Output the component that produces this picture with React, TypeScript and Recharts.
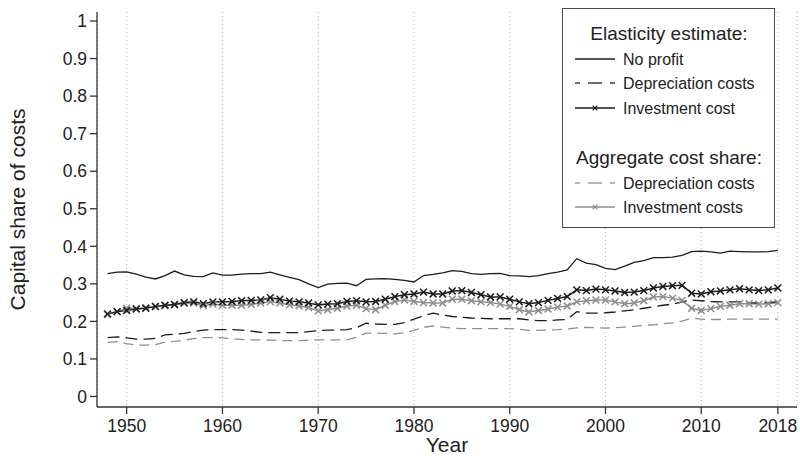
import { CartesianGrid, Legend, Line, LineChart, XAxis, YAxis } from "recharts";

const years = [
	1948, 1949, 1950, 1951, 1952, 1953, 1954, 1955, 1956, 1957, 1958, 1959,
	1960, 1961, 1962, 1963, 1964, 1965, 1966, 1967, 1968, 1969,
	1970, 1971, 1972, 1973, 1974, 1975, 1976, 1977, 1978, 1979,
	1980, 1981, 1982, 1983, 1984, 1985, 1986, 1987, 1988, 1989,
	1990, 1991, 1992, 1993, 1994, 1995, 1996, 1997, 1998, 1999,
	2000, 2001, 2002, 2003, 2004, 2005, 2006, 2007, 2008, 2009,
	2010, 2011, 2012, 2013, 2014, 2015, 2016, 2017, 2018,
];

// elasticity estimates
const noProfit = [
	0.327, 0.331, 0.332, 0.326, 0.318, 0.313, 0.322, 0.334, 0.324, 0.32, 0.319, 0.329,
	0.323, 0.323, 0.326, 0.327, 0.327, 0.331, 0.324, 0.317, 0.311, 0.3,
	0.29, 0.299, 0.301, 0.302, 0.295, 0.312, 0.313, 0.314, 0.312, 0.309,
	0.305, 0.322, 0.325, 0.329, 0.335, 0.333, 0.327, 0.325, 0.327, 0.328,
	0.322, 0.321, 0.319, 0.322, 0.327, 0.331, 0.337, 0.367, 0.355, 0.351,
	0.341, 0.338, 0.347, 0.357, 0.362, 0.37, 0.37, 0.371, 0.376, 0.386,
	0.387, 0.385, 0.382, 0.387, 0.386, 0.385, 0.385, 0.386, 0.389,
];
const deprElasticity = [
	0.157, 0.159, 0.156, 0.153, 0.153, 0.155, 0.164, 0.166, 0.168, 0.173, 0.177, 0.178,
	0.178, 0.178, 0.177, 0.174, 0.171, 0.17, 0.17, 0.17, 0.17, 0.173,
	0.175, 0.177, 0.177, 0.178, 0.183, 0.195, 0.193, 0.192, 0.192, 0.197,
	0.206, 0.215, 0.222, 0.217, 0.213, 0.211, 0.209, 0.208, 0.207, 0.207,
	0.207, 0.207, 0.204, 0.202, 0.202, 0.204, 0.205, 0.226, 0.222, 0.222,
	0.223, 0.225, 0.228, 0.231, 0.235, 0.239, 0.243, 0.246, 0.252, 0.257,
	0.255, 0.253, 0.252, 0.252, 0.252, 0.25, 0.249, 0.25, 0.252,
];
const invElasticity = [
	0.22, 0.226, 0.229, 0.233, 0.235, 0.24, 0.243, 0.245, 0.25, 0.252, 0.247, 0.252,
	0.252, 0.253, 0.255, 0.256, 0.257, 0.263, 0.259, 0.254, 0.252, 0.249,
	0.244, 0.246, 0.247, 0.253, 0.255, 0.252, 0.253, 0.259, 0.266, 0.271,
	0.273, 0.278, 0.273, 0.273, 0.281, 0.282, 0.277, 0.271, 0.265, 0.265,
	0.259, 0.252, 0.247, 0.25, 0.256, 0.261, 0.266, 0.284, 0.282, 0.286,
	0.284, 0.281, 0.277, 0.278, 0.282, 0.289, 0.293, 0.295, 0.296, 0.275,
	0.273, 0.279, 0.281, 0.284, 0.287, 0.284, 0.282, 0.284, 0.289,
];

// aggregate cost shares
const deprAggregate = [
	0.144, 0.146, 0.141, 0.137, 0.137, 0.138, 0.145, 0.147, 0.15, 0.154, 0.157, 0.157,
	0.156, 0.153, 0.152, 0.151, 0.151, 0.15, 0.149, 0.149, 0.149, 0.15,
	0.151, 0.151, 0.151, 0.151, 0.158, 0.169, 0.169, 0.168, 0.167, 0.17,
	0.176, 0.184, 0.188, 0.185, 0.182, 0.181, 0.181, 0.181, 0.181, 0.181,
	0.181, 0.179, 0.176, 0.176, 0.177, 0.178, 0.18, 0.183, 0.184, 0.183,
	0.182, 0.183, 0.185, 0.187, 0.189, 0.191, 0.194, 0.196, 0.201, 0.209,
	0.206, 0.205, 0.205, 0.206, 0.206, 0.206, 0.206, 0.206, 0.206,
];
const invAggregate = [
	0.218, 0.226, 0.235, 0.234, 0.236, 0.239, 0.242, 0.244, 0.248, 0.249, 0.242, 0.246,
	0.243, 0.243, 0.243, 0.245, 0.249, 0.252, 0.249, 0.244, 0.241, 0.237,
	0.228, 0.231, 0.235, 0.241, 0.243, 0.234, 0.231, 0.243, 0.253, 0.257,
	0.253, 0.25, 0.249, 0.249, 0.259, 0.259, 0.255, 0.252, 0.25, 0.246,
	0.24, 0.231, 0.225, 0.229, 0.233, 0.238, 0.241, 0.252, 0.255, 0.257,
	0.257, 0.252, 0.247, 0.249, 0.255, 0.265, 0.266, 0.262, 0.256, 0.235,
	0.229, 0.234, 0.24, 0.243, 0.247, 0.247, 0.246, 0.247, 0.25,
];

const xTicks = [1950, 1960, 1970, 1980, 1990, 2000, 2010, 2018];
const yTicks = [0, 0.1, 0.2, 0.3, 0.4, 0.5, 0.6, 0.7, 0.8, 0.9, 1];

const data = years.map((year, i) => ({
	year,
	noProfit: noProfit[i],
	deprEl: deprElasticity[i],
	invEl: invElasticity[i],
	deprAgg: deprAggregate[i],
	invAgg: invAggregate[i],
}));

const BLACK = "#1c1c1c";
const GREY = "#8e8e8e";
const FONT = '"Liberation Sans", Arial, Helvetica, sans-serif';

function Cross({ cx, cy, color, r = 3.4, w = 1.5 }: any) {
	if (cx == null || cy == null) return null;
	return (
		<g stroke={color} strokeWidth={w}>
			<line x1={cx - r} y1={cy - r} x2={cx + r} y2={cy + r} />
			<line x1={cx - r} y1={cy + r} x2={cx + r} y2={cy - r} />
		</g>
	);
}

const groups = [
	{ title: "Elasticity estimate:", keys: ["noProfit", "deprEl", "invEl"], titleY: 25, rows: [51, 75, 100] },
	{ title: "Aggregate cost share:", keys: ["deprAgg", "invAgg"], titleY: 149, rows: [175, 199] },
];

function Sample({ dataKey, color, y }: any) {
	if (dataKey === "deprEl" || dataKey === "deprAgg") {
		return (
			<g stroke={color} strokeWidth={1.3}>
				<line x1={13} x2={18} y1={y} y2={y} />
				<line x1={26} x2={40} y1={y} y2={y} />
				<line x1={48} x2={53} y1={y} y2={y} />
			</g>
		);
	}
	return (
		<g>
			<line x1={13} x2={53} y1={y} y2={y} stroke={color} strokeWidth={1.3} />
			{(dataKey === "invEl" || dataKey === "invAgg") && <Cross cx={33} cy={y} color={color} r={2.3} w={1.2} />}
		</g>
	);
}

function LegendBox({ payload }: any) {
	const byKey: Record<string, any> = {};
	(payload || []).forEach((p: any) => {
		byKey[p.dataKey] = p;
	});
	return (
		<svg width={213} height={220} style={{ display: "block", fontFamily: FONT }}>
			<rect x={0.5} y={0.5} width={212} height={219} fill="#fff" stroke="#4a4a4a" strokeWidth={1} />
			{groups.map((g) => (
				<g key={g.title}>
					<text x={107} y={g.titleY} textAnchor="middle" dominantBaseline="central" fontSize={19} fill="#222">
						{g.title}
					</text>
					{g.keys.map((k, i) => {
						const item = byKey[k];
						if (!item) return null;
						return (
							<g key={k}>
								<Sample dataKey={k} color={item.color} y={g.rows[i]} />
								<text x={61} y={g.rows[i]} dominantBaseline="central" fontSize={16} fill="#222">
									{item.value}
								</text>
							</g>
						);
					})}
				</g>
			))}
		</svg>
	);
}

export default function App() {
	return (
		<div style={{ position: "absolute", left: 0, top: 0, background: "#fff" }}>
			<LineChart
				width={800}
				height={456}
				data={data}
				margin={{ top: 12, right: 3, bottom: 0, left: 0 }}
				style={{ fontFamily: FONT }}
			>
				<CartesianGrid horizontal={false} strokeDasharray="1 3" stroke="#b0b0b0" />
				<XAxis
					dataKey="year"
					type="number"
					domain={[1946.9, 2020]}
					ticks={xTicks}
					height={49}
					tickSize={7}
					tickMargin={6}
					stroke="#333"
					strokeWidth={1.3}
					tick={{ fill: "#222", fontSize: 17.5 }}
					label={{ value: "Year", position: "insideBottom", offset: 4, fill: "#222", fontSize: 21 }}
				/>
				<YAxis
					domain={[-0.028, 1.024]}
					ticks={yTicks}
					width={97}
					tickSize={7}
					tickMargin={3}
					stroke="#333"
					strokeWidth={1.3}
					tick={{ fill: "#222", fontSize: 17.5 }}
					tickFormatter={(v: number) => String(v)}
					label={{
						value: "Capital share of costs",
						angle: -90,
						position: "insideLeft",
						offset: 18,
						fill: "#222",
						fontSize: 21,
						style: { textAnchor: "middle" },
					}}
				/>
				<Legend
					layout="horizontal"
					verticalAlign="middle"
					align="center"
					content={<LegendBox />}
					wrapperStyle={{ left: 562, top: 8, width: 213, height: 220 }}
				/>
				<Line
					dataKey="deprAgg"
					name="Depreciation costs"
					stroke={GREY}
					strokeWidth={1.3}
					strokeDasharray="10 6"
					dot={false}
					isAnimationActive={false}
				/>
				<Line
					dataKey="invAgg"
					name="Investment costs"
					stroke={GREY}
					strokeWidth={1.5}
					dot={(p: any) => <Cross key={`ia-${p.index}`} cx={p.cx} cy={p.cy} color={GREY} />}
					isAnimationActive={false}
				/>
				<Line
					dataKey="noProfit"
					name="No profit"
					stroke={BLACK}
					strokeWidth={1.3}
					dot={false}
					isAnimationActive={false}
				/>
				<Line
					dataKey="deprEl"
					name="Depreciation costs"
					stroke={BLACK}
					strokeWidth={1.3}
					strokeDasharray="12 6"
					dot={false}
					isAnimationActive={false}
				/>
				<Line
					dataKey="invEl"
					name="Investment cost"
					stroke={BLACK}
					strokeWidth={1.5}
					dot={(p: any) => <Cross key={`ie-${p.index}`} cx={p.cx} cy={p.cy} color={BLACK} />}
					isAnimationActive={false}
				/>
			</LineChart>
		</div>
	);
}
